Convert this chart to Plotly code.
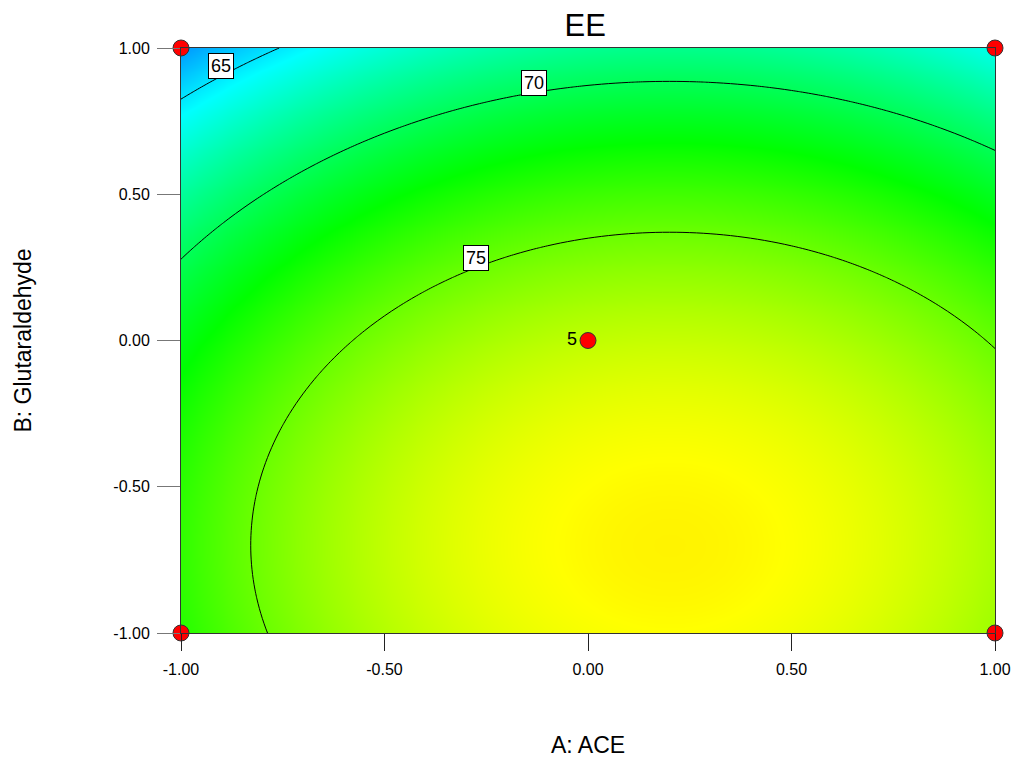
import numpy as np
import plotly.graph_objects as go

# Fitted response-surface model for EE (coded factors A, B)
coef_const = 79.18
coef_A0 = 0.20      # location of optimum in A
coef_B0 = -0.70     # location of optimum in B
coef_AA = 3.95      # curvature in A
coef_BB = 3.65      # curvature in B

contour_levels = [65, 70, 75]
label_A = [-0.902, -0.133, -0.275]  # A position where each contour label sits

design_A = [-1, 1, -1, 1, 0]
design_B = [-1, -1, 1, 1, 0]
design_text = ["", "", "", "", "5"]

tick_vals = [-1.0, -0.5, 0.0, 0.5, 1.0]
tick_text = ["%.2f" % v for v in tick_vals]

cmin, cmax = 59.0, 85.5

FONT = "Liberation Sans, Arial"

W, H = 1017, 758
ML, MR, MT, MB = 181, 22, 48, 125


def model(a, b):
    return coef_const - coef_AA * (a - coef_A0) ** 2 - coef_BB * (b - coef_B0) ** 2


grid = np.linspace(-1, 1, 121)
AA, BB = np.meshgrid(grid, grid)
Z = model(AA, BB)

colorscale = [
    [0.0, "rgb(0,0,255)"],
    [0.25, "rgb(0,255,255)"],
    [0.5, "rgb(0,255,0)"],
    [0.75, "rgb(255,255,0)"],
    [1.0, "rgb(255,0,0)"],
]

fig = go.Figure()
fig.add_trace(go.Heatmap(
    x=grid, y=grid, z=Z, colorscale=colorscale, zmin=cmin, zmax=cmax,
    zsmooth="best", showscale=False, hoverinfo="skip"))
fig.add_trace(go.Contour(
    x=grid, y=grid, z=Z,
    contours=dict(start=contour_levels[0], end=contour_levels[-1], size=5,
                  coloring="lines", showlabels=False),
    colorscale=[[0, "black"], [1, "black"]], showscale=False,
    line=dict(width=1, color="black"), hoverinfo="skip"))

# contour labels (boxed), sitting on each contour line
for lev, a in zip(contour_levels, label_A):
    b = coef_B0 + np.sqrt((coef_const - lev - coef_AA * (a - coef_A0) ** 2) / coef_BB)
    fig.add_annotation(x=a, y=b, text=str(lev), showarrow=False, yshift=10,
                       font=dict(family=FONT, size=18, color="black"),
                       bgcolor="white", bordercolor="black", borderwidth=1, borderpad=2)

fig.add_trace(go.Scatter(
    x=design_A, y=design_B, mode="markers+text", text=design_text,
    textposition="middle left", textfont=dict(family=FONT, size=18, color="black"),
    marker=dict(symbol="circle", size=16, color="red", line=dict(color="#333", width=1)),
    cliponaxis=False, hoverinfo="skip", showlegend=False))

axis_common = dict(
    range=[-1, 1], tickvals=tick_vals, ticktext=tick_text, ticks="outside",
    showgrid=False, zeroline=False,
    showline=True, linecolor="#333", linewidth=1, mirror=True, automargin=False,
    tickfont=dict(family=FONT, size=16, color="black"),
)

fig.update_layout(
    width=W, height=H,
    margin=dict(l=ML, r=MR, t=MT, b=MB, autoexpand=False),
    paper_bgcolor="white", plot_bgcolor="white",
    title=dict(text="EE", x=0.5755, xanchor="center", y=0.967, yanchor="middle",
               font=dict(family=FONT, size=31, color="black")),
    xaxis=dict(axis_common, ticklen=17, tickcolor="#222", ticklabelstandoff=5),
    yaxis=dict(axis_common, ticklen=23, tickcolor="#777", ticklabelstandoff=4),
    showlegend=False,
)

plot_w = W - ML - MR
plot_h = H - MT - MB
fig.add_annotation(text="A: ACE", xref="x domain", yref="paper",
                   x=0.5, y=(H - MB - 745) / plot_h,
                   showarrow=False, xanchor="center", yanchor="middle",
                   font=dict(family=FONT, size=23, color="black"))
fig.add_annotation(text="B: Glutaraldehyde", xref="paper", yref="y domain",
                   x=(22 - ML) / plot_w, y=0.5, textangle=-90, showarrow=False,
                   xanchor="center", yanchor="middle",
                   font=dict(family=FONT, size=23, color="black"))

fig.write_html("out.html")
